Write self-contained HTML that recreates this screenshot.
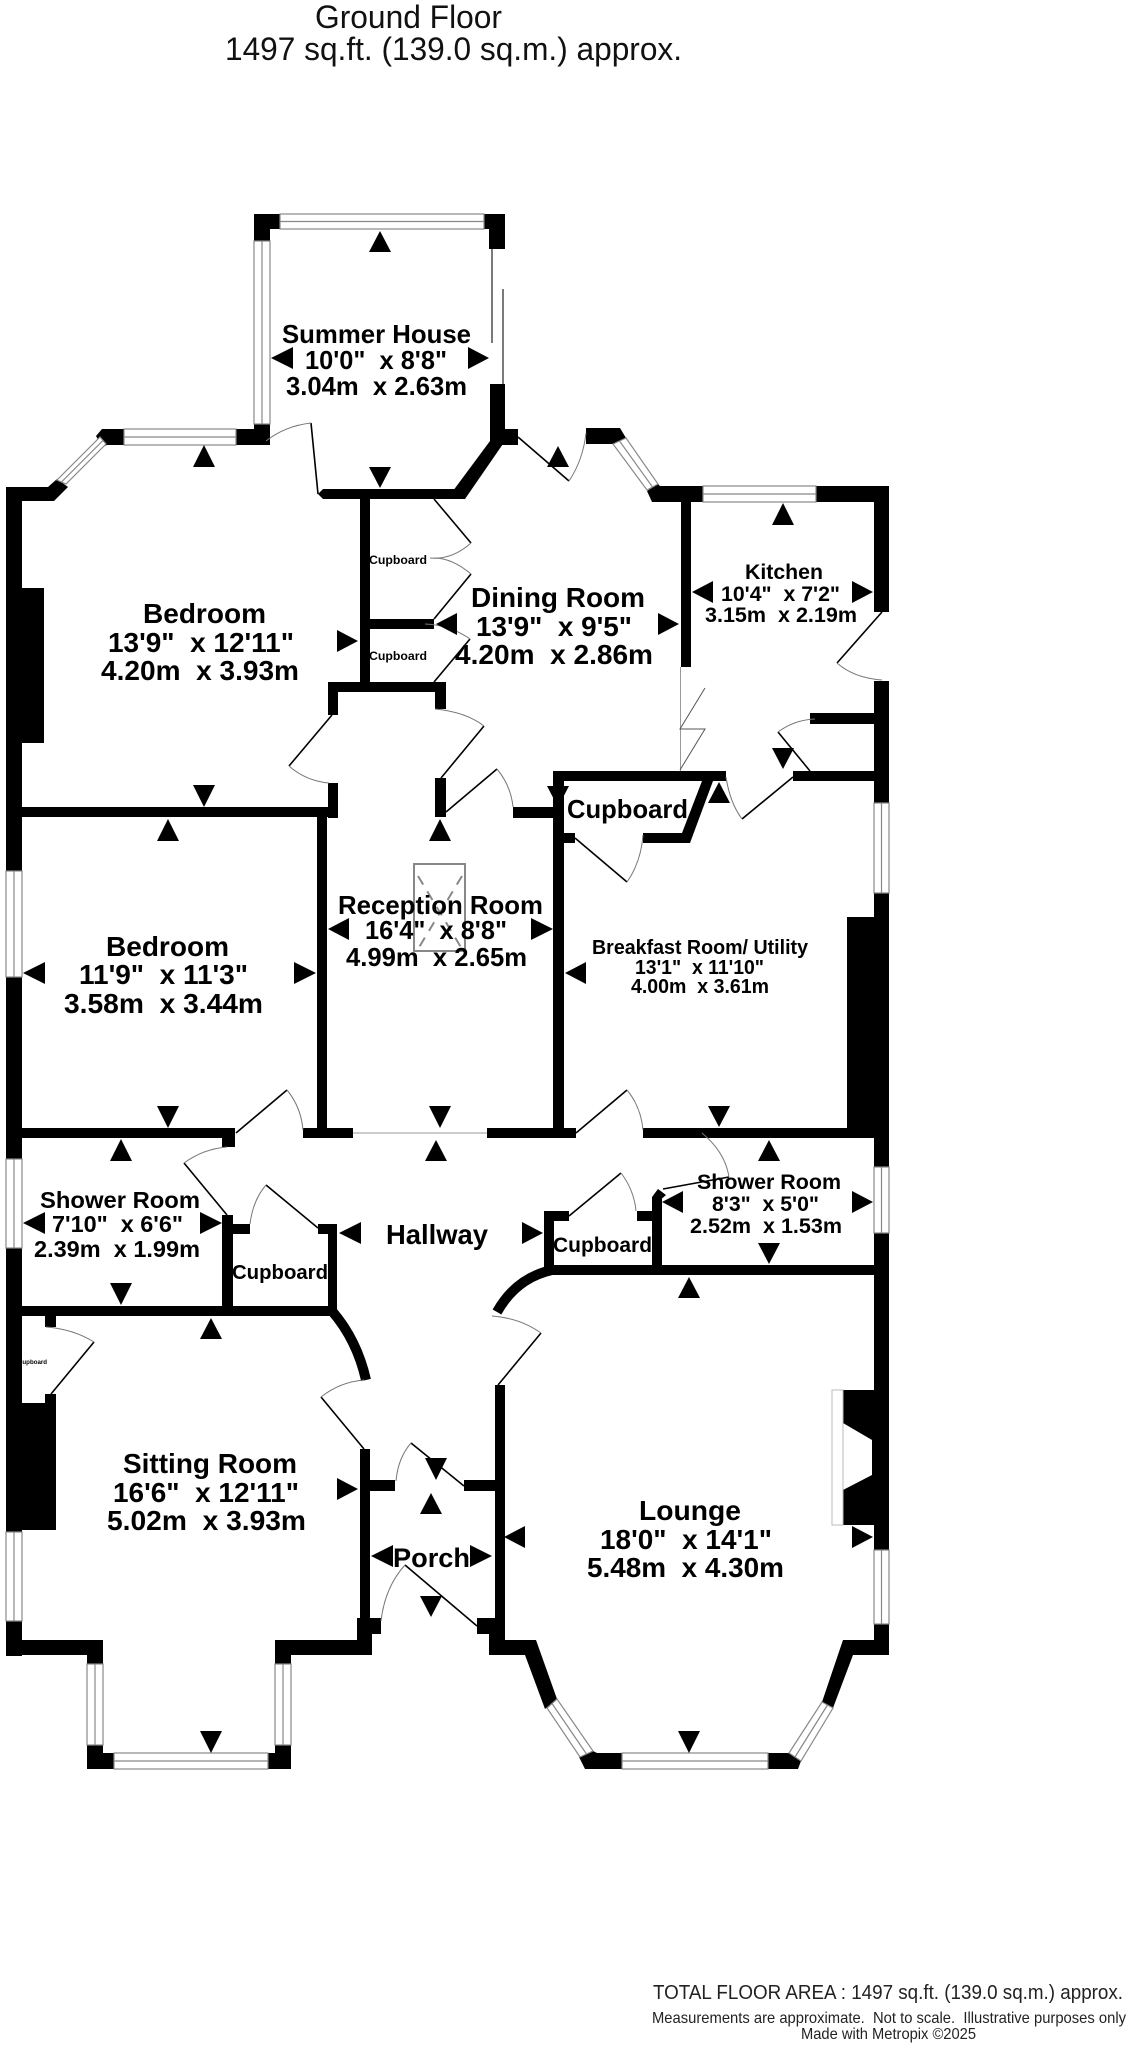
<!DOCTYPE html>
<html lang="en">
<head>
<meta charset="utf-8">
<title>Ground Floor Plan</title>
<style>
html,body{margin:0;padding:0;background:#fff;width:1129px;height:2048px;overflow:hidden}
svg{display:block}
text{font-family:"Liberation Sans",sans-serif;fill:#000;font-weight:bold}
.r{font-weight:normal;fill:#111}
.f{font-weight:normal;fill:#222}
.w{fill:#fff;stroke:#888;stroke-width:1.2}
.c{fill:none;stroke:#888;stroke-width:1.2}
.d{fill:none;stroke:#000;stroke-width:1.6}
.a{fill:none;stroke:#777;stroke-width:1}
.g{fill:none;stroke:#999;stroke-width:1}
.k{fill:none;stroke:#000;stroke-width:10}
</style>
</head>
<body>
<svg xmlns="http://www.w3.org/2000/svg" width="1129" height="2048" viewBox="0 0 1129 2048">
<rect width="1129" height="2048" fill="#fff"/>

<!-- titles -->
<text class="r" x="315" y="28" font-size="32" textLength="187" lengthAdjust="spacingAndGlyphs">Ground Floor</text>
<text class="r" x="225" y="60" font-size="32" textLength="457" lengthAdjust="spacingAndGlyphs">1497 sq.ft. (139.0 sq.m.) approx.</text>
<text class="f" x="653" y="1999" font-size="20" textLength="470" lengthAdjust="spacingAndGlyphs">TOTAL FLOOR AREA : 1497 sq.ft. (139.0 sq.m.) approx.</text>
<text class="f" x="652" y="2023" font-size="16" textLength="474" lengthAdjust="spacingAndGlyphs">Measurements are approximate. &#160;Not to scale. &#160;Illustrative purposes only</text>
<text class="f" x="801" y="2039" font-size="16" textLength="175" lengthAdjust="spacingAndGlyphs">Made with Metropix ©2025</text>

<!-- walls -->
<g fill="#000">
<!-- summer house -->
<rect x="254" y="214" width="26" height="15"/><rect x="254" y="214" width="16" height="27"/>
<rect x="484" y="214" width="21" height="15"/><rect x="489" y="214" width="16" height="35"/>
<rect x="254" y="424" width="16" height="21"/>
<rect x="236" y="429" width="34" height="16"/>
<rect x="490" y="384" width="15" height="61"/>
<rect x="490" y="429" width="28" height="16"/>
<polygon points="490,441 505,441 465,499 447,499"/>
<polygon points="318,494 323,489 461,489 461,499 323,499"/>
<!-- bedroom top -->
<polygon points="96,436 102,429 124,429 124,445 107,445 102,447"/>
<polygon points="6,487 48,487 57,479 68,487 54,501 22,501 22,1656 6,1656"/>
<rect x="22" y="588" width="22" height="155"/>
<rect x="360" y="499" width="10" height="183"/>
<rect x="370" y="619" width="64" height="10"/>
<rect x="328" y="682" width="118" height="10"/>
<rect x="328" y="692" width="10" height="23"/>
<rect x="435" y="692" width="11" height="17"/>
<rect x="328" y="783" width="10" height="35"/>
<rect x="22" y="807" width="316" height="10"/>
<rect x="435" y="778" width="11" height="39"/>
<rect x="317" y="817" width="10" height="321"/>
<!-- dining top -->
<polygon points="586,428 620,428 626,438 613,444 586,444"/>
<polygon points="658,484 660,486 703,486 703,502 652,502 647,491"/>
<rect x="681" y="486" width="10" height="181"/>
<!-- kitchen -->
<path d="M816 486H889V612H874V502H816Z"/>
<rect x="874" y="681" width="15" height="122"/>
<rect x="810" y="713" width="64" height="11"/>
<rect x="793" y="771" width="81" height="10"/>
<!-- cupboard breakfast -->
<rect x="553" y="771" width="173" height="10"/>
<rect x="553" y="771" width="11" height="367"/>
<rect x="513" y="807" width="40" height="11"/>
<rect x="564" y="833" width="11" height="10"/>
<polygon points="702,781 713,781 690,843 643,843 643,833 682,833"/>
<!-- right side -->
<rect x="874" y="893" width="15" height="274"/>
<rect x="847" y="917" width="27" height="221"/>
<rect x="643" y="1128" width="204" height="10"/>
<rect x="487" y="1128" width="89" height="10"/>
<rect x="303" y="1128" width="50" height="10"/>
<rect x="22" y="1128" width="213" height="10"/>
<rect x="222" y="1128" width="13" height="19"/>
<rect x="874" y="1233" width="15" height="317"/>
<rect x="550" y="1265" width="324" height="10"/>
<!-- shower / cupboards left -->
<rect x="222" y="1215" width="11" height="91"/>
<rect x="233" y="1224" width="17" height="10"/>
<rect x="318" y="1224" width="19" height="10"/>
<rect x="328" y="1224" width="9" height="87"/>
<rect x="22" y="1306" width="310" height="10"/>
<rect x="45" y="1316" width="11" height="11"/>
<rect x="45" y="1394" width="11" height="9"/>
<rect x="22" y="1403" width="34" height="127"/>
<!-- cupboard right -->
<rect x="544" y="1211" width="10" height="58"/>
<rect x="554" y="1211" width="15" height="10"/>
<rect x="637" y="1211" width="15" height="10"/>
<rect x="652" y="1197" width="10" height="73"/>
<polygon points="652,1197 658,1189 666,1195 658,1202"/>
<!-- sitting bottom -->
<rect x="6" y="1640" width="97" height="15"/>
<rect x="87" y="1640" width="16" height="24"/>
<rect x="87" y="1745" width="16" height="24"/>
<rect x="87" y="1753" width="27" height="16"/>
<rect x="275" y="1640" width="16" height="24"/>
<rect x="275" y="1640" width="97" height="15"/>
<rect x="275" y="1745" width="16" height="24"/>
<rect x="268" y="1753" width="23" height="16"/>
<rect x="360" y="1449" width="10" height="170"/>
<rect x="357" y="1618" width="15" height="37"/>
<rect x="357" y="1618" width="24" height="16"/>
<rect x="370" y="1480" width="25" height="11"/>
<rect x="464" y="1480" width="31" height="11"/>
<rect x="495" y="1385" width="10" height="233"/>
<rect x="477" y="1618" width="28" height="16"/>
<rect x="489" y="1618" width="16" height="37"/>
<!-- lounge bottom -->
<polygon points="489,1640 536,1640 557,1699 545,1709 525,1655 489,1655"/>
<polygon points="579,1757 593,1751 597,1753 622,1753 622,1769 585,1769"/>
<polygon points="768,1753 789,1753 801,1761 798,1769 768,1769"/>
<polygon points="843,1640 889,1640 889,1655 853,1655 833,1708 822,1702"/>
<rect x="874" y="1624" width="15" height="31"/>
<!-- lounge fireplace -->
<polygon points="843,1390 874,1390 874,1525 843,1525 843,1490 872,1475 872,1440 843,1423"/>
</g>
<rect x="832" y="1390" width="11" height="135" fill="none" stroke="#bbb" stroke-width="1"/>

<!-- windows -->
<g>
<rect class="w" x="280" y="214" width="204" height="15"/><path class="c" d="M280 221.500H484"/>
<rect class="w" x="254" y="241" width="16" height="183"/><path class="c" d="M262 241V424"/>
<rect class="w" x="124" y="429" width="112" height="16"/><path class="c" d="M124 437H236"/>
<polygon class="w" points="57,480 100,437 106,444 66,484"/><path class="c" d="M61.500 482L103 440.500"/>
<rect class="w" x="703" y="486" width="113" height="16"/><path class="c" d="M703 494H816"/>
<polygon class="w" points="613,444 626,438 658,484 647,490"/><path class="c" d="M619.500 441L652.500 487"/>
<rect class="w" x="874" y="803" width="15" height="90"/><path class="c" d="M881.500 803V893"/>
<rect class="w" x="6" y="871" width="16" height="106"/><path class="c" d="M14 871V977"/>
<rect class="w" x="6" y="1159" width="16" height="89"/><path class="c" d="M14 1159V1248"/>
<rect class="w" x="874" y="1167" width="15" height="66"/><path class="c" d="M881.500 1167V1233"/>
<rect class="w" x="6" y="1532" width="16" height="89"/><path class="c" d="M14 1532V1621"/>
<rect class="w" x="874" y="1550" width="15" height="74"/><path class="c" d="M881.500 1550V1624"/>
<rect class="w" x="87" y="1664" width="16" height="81"/><path class="c" d="M95 1664V1745"/>
<rect class="w" x="275" y="1664" width="16" height="81"/><path class="c" d="M283 1664V1745"/>
<rect class="w" x="114" y="1753" width="154" height="16"/><path class="c" d="M114 1761H268"/>
<rect class="w" x="622" y="1753" width="146" height="16"/><path class="c" d="M622 1761H768"/>
<polygon class="w" points="547,1708 557,1699 593,1751 580,1757"/><path class="c" d="M552 1703.500L586.500 1754"/>
<polygon class="w" points="789,1753 801,1761 833,1708 822,1702"/><path class="c" d="M795 1757L827.500 1705"/>
<path class="g" d="M353 1133H487"/>
</g>

<!-- curved walls -->
<path class="k" d="M332 1311Q357 1340 366 1380"/>
<path class="k" d="M552 1270Q516 1278 497 1312"/>

<!-- thin slider lines -->
<path d="M492 249V343M503 289V384" fill="none" stroke="#222" stroke-width="1.2"/>

<!-- doors -->
<path class="d" d="M311 423L318 494"/><path class="a" d="M266 441Q285 426 311 423"/>
<path class="d" d="M518 437L569 481"/><path class="a" d="M569 481Q583 460 586 433"/>
<path class="d" d="M434 499L471 543"/><path class="a" d="M471 543Q452 560 430 558"/>
<path class="d" d="M434 619L471 574"/><path class="a" d="M471 574Q452 558 434 558"/>
<path class="d" d="M434 682L470 639"/><path class="a" d="M470 639Q450 625 425 624"/>
<path class="d" d="M332 715L289 766"/><path class="a" d="M289 766Q306 781 329 783"/>
<path class="d" d="M484 726L441 778"/><path class="a" d="M435 709Q466 712 484 726"/>
<path class="d" d="M446 812L497 769"/><path class="a" d="M497 769Q511 786 513 807"/>
<path class="d" d="M882 612L837 663"/><path class="a" d="M837 663Q854 678 882 680"/>
<path class="d" d="M810 771L778 732"/><path class="a" d="M778 732Q794 720 815 719"/>
<path class="d" d="M793 777L742 819"/><path class="a" d="M726 777Q730 803 742 819"/>
<path class="d" d="M575 838L627 882"/><path class="a" d="M627 882Q641 862 643 835"/>
<path class="d" d="M236 1133L287 1090"/><path class="a" d="M287 1090Q301 1107 303 1130"/>
<path class="d" d="M576 1133L627 1090"/><path class="a" d="M627 1090Q641 1107 643 1130"/>
<path class="d" d="M184 1163L227 1215"/><path class="a" d="M184 1163Q203 1149 227 1147"/>
<path class="d" d="M266 1185L318 1228"/><path class="a" d="M250 1224Q253 1200 266 1185"/>
<path class="d" d="M569 1216L621 1173"/><path class="a" d="M621 1173Q634 1190 636 1211"/>
<path class="d" d="M663 1189L729 1177"/><path class="a" d="M702 1133Q725 1152 729 1177"/>
<path class="d" d="M94 1342L51 1394"/><path class="a" d="M46 1327Q73 1329 94 1342"/>
<path class="d" d="M321 1397L364 1449"/><path class="a" d="M321 1397Q340 1382 364 1380"/>
<path class="d" d="M541 1333L498 1385"/><path class="a" d="M492 1316Q520 1318 541 1333"/>
<path class="d" d="M411 1443L464 1486"/><path class="a" d="M396 1481Q398 1458 411 1443"/>
<path class="d" d="M405 1565L477 1626"/><path class="a" d="M381 1621Q385 1587 405 1565"/>
<!-- bifold -->
<path class="g" d="M680.500 667V771"/>
<path d="M705 688L680 729H705L680 770" fill="none" stroke="#555" stroke-width="1"/>

<!-- skylight -->
<rect x="414" y="864" width="51" height="87" fill="none" stroke="#888" stroke-width="2"/>
<path d="M418 876L462 949M462 876L418 949" fill="none" stroke="#888" stroke-width="2" stroke-dasharray="10 8"/>

<!-- arrows -->
<g fill="#000">
<polygon points="380,231 369,252 391,252"/>
<polygon points="271,358 293,347 293,369"/>
<polygon points="489,358 468,347 468,369"/>
<polygon points="204,445 193,467 215,467"/>
<polygon points="380,488 369,467 391,467"/>
<polygon points="358,641 337,630 337,652"/>
<polygon points="436,624 457,613 457,635"/>
<polygon points="204,807 193,785 215,785"/>
<polygon points="168,819 157,841 179,841"/>
<polygon points="440,819 429,841 451,841"/>
<polygon points="23,973 45,962 45,984"/>
<polygon points="316,973 294,962 294,984"/>
<polygon points="168,1128 157,1106 179,1106"/>
<polygon points="328,929 349,918 349,940"/>
<polygon points="553,929 531,918 531,940"/>
<polygon points="440,1128 429,1106 451,1106"/>
<polygon points="558,446 547,467 569,467"/>
<polygon points="783,503 772,525 794,525"/>
<polygon points="692,592 713,581 713,603"/>
<polygon points="873,592 852,581 852,603"/>
<polygon points="679,624 658,613 658,635"/>
<polygon points="783,769 772,748 794,748"/>
<polygon points="719,782 708,803 730,803"/>
<polygon points="558,807 547,786 569,786"/>
<polygon points="565,973 586,962 586,984"/>
<polygon points="719,1127 708,1106 730,1106"/>
<polygon points="769,1140 758,1161 780,1161"/>
<polygon points="662,1202 683,1191 683,1213"/>
<polygon points="873,1202 852,1191 852,1213"/>
<polygon points="769,1264 758,1243 780,1243"/>
<polygon points="689,1277 678,1298 700,1298"/>
<polygon points="504,1537 525,1526 525,1548"/>
<polygon points="873,1537 852,1526 852,1548"/>
<polygon points="689,1753 678,1731 700,1731"/>
<polygon points="543,1233 522,1222 522,1244"/>
<polygon points="121,1139 110,1161 132,1161"/>
<polygon points="436,1140 425,1161 447,1161"/>
<polygon points="23,1223 45,1212 45,1234"/>
<polygon points="222,1223 200,1212 200,1234"/>
<polygon points="339,1233 361,1222 361,1244"/>
<polygon points="121,1305 110,1283 132,1283"/>
<polygon points="211,1318 200,1339 222,1339"/>
<polygon points="358,1489 337,1478 337,1500"/>
<polygon points="436,1480 425,1458 447,1458"/>
<polygon points="431,1493 420,1514 442,1514"/>
<polygon points="371,1556 393,1545 393,1567"/>
<polygon points="492,1556 470,1545 470,1567"/>
<polygon points="431,1617 420,1596 442,1596"/>
<polygon points="211,1753 200,1731 222,1731"/>
</g>

<!-- labels -->
<g>
<text x="282" y="343" font-size="26" textLength="189" lengthAdjust="spacingAndGlyphs">Summer House</text>
<text x="305" y="369" font-size="26" textLength="142" lengthAdjust="spacingAndGlyphs">10'0" &#160;x 8'8"</text>
<text x="286" y="395" font-size="26" textLength="181" lengthAdjust="spacingAndGlyphs">3.04m &#160;x 2.63m</text>

<text x="143" y="623" font-size="28" textLength="123" lengthAdjust="spacingAndGlyphs">Bedroom</text>
<text x="108" y="652" font-size="28" textLength="186" lengthAdjust="spacingAndGlyphs">13'9" &#160;x 12'11"</text>
<text x="101" y="680" font-size="28" textLength="198" lengthAdjust="spacingAndGlyphs">4.20m &#160;x 3.93m</text>

<text x="369" y="564" font-size="12.300" textLength="58" lengthAdjust="spacingAndGlyphs">Cupboard</text>
<text x="369" y="660" font-size="12.300" textLength="58" lengthAdjust="spacingAndGlyphs">Cupboard</text>

<text x="471" y="607" font-size="28" textLength="174" lengthAdjust="spacingAndGlyphs">Dining Room</text>
<text x="476" y="636" font-size="28" textLength="156" lengthAdjust="spacingAndGlyphs">13'9" &#160;x 9'5"</text>
<text x="455" y="664" font-size="28" textLength="198" lengthAdjust="spacingAndGlyphs">4.20m &#160;x 2.86m</text>

<text x="745" y="579" font-size="21.500" textLength="78" lengthAdjust="spacingAndGlyphs">Kitchen</text>
<text x="721" y="601" font-size="21.500" textLength="119" lengthAdjust="spacingAndGlyphs">10'4" &#160;x 7'2"</text>
<text x="705" y="622" font-size="21.500" textLength="152" lengthAdjust="spacingAndGlyphs">3.15m &#160;x 2.19m</text>

<text x="567" y="818" font-size="25.600" textLength="121" lengthAdjust="spacingAndGlyphs">Cupboard</text>

<text x="106" y="956" font-size="28" textLength="123" lengthAdjust="spacingAndGlyphs">Bedroom</text>
<text x="79" y="984" font-size="28" textLength="169" lengthAdjust="spacingAndGlyphs">11'9" &#160;x 11'3"</text>
<text x="64" y="1013" font-size="28" textLength="199" lengthAdjust="spacingAndGlyphs">3.58m &#160;x 3.44m</text>

<text x="338" y="914" font-size="26" textLength="205" lengthAdjust="spacingAndGlyphs">Reception Room</text>
<text x="365" y="939" font-size="26" textLength="142" lengthAdjust="spacingAndGlyphs">16'4" &#160;x 8'8"</text>
<text x="346" y="966" font-size="26" textLength="181" lengthAdjust="spacingAndGlyphs">4.99m &#160;x 2.65m</text>

<text x="592" y="954" font-size="20" textLength="216" lengthAdjust="spacingAndGlyphs">Breakfast Room/ Utility</text>
<text x="635" y="974" font-size="20" textLength="129" lengthAdjust="spacingAndGlyphs">13'1" &#160;x 11'10"</text>
<text x="631" y="993" font-size="20" textLength="138" lengthAdjust="spacingAndGlyphs">4.00m &#160;x 3.61m</text>

<text x="40" y="1208" font-size="23.500" textLength="160" lengthAdjust="spacingAndGlyphs">Shower Room</text>
<text x="52" y="1232" font-size="23.500" textLength="131" lengthAdjust="spacingAndGlyphs">7'10" &#160;x 6'6"</text>
<text x="34" y="1257" font-size="23.500" textLength="166" lengthAdjust="spacingAndGlyphs">2.39m &#160;x 1.99m</text>

<text x="232" y="1279" font-size="20.300" textLength="96" lengthAdjust="spacingAndGlyphs">Cupboard</text>
<text x="386" y="1244" font-size="27.400" textLength="102" lengthAdjust="spacingAndGlyphs">Hallway</text>
<text x="18" y="1364" font-size="6.300" textLength="29" lengthAdjust="spacingAndGlyphs">Cupboard</text>

<text x="123" y="1473" font-size="28" textLength="174" lengthAdjust="spacingAndGlyphs">Sitting Room</text>
<text x="113" y="1502" font-size="28" textLength="186" lengthAdjust="spacingAndGlyphs">16'6" &#160;x 12'11"</text>
<text x="107" y="1530" font-size="28" textLength="199" lengthAdjust="spacingAndGlyphs">5.02m &#160;x 3.93m</text>

<text x="393" y="1567" font-size="27" textLength="77" lengthAdjust="spacingAndGlyphs">Porch</text>

<text x="639" y="1520" font-size="28" textLength="102" lengthAdjust="spacingAndGlyphs">Lounge</text>
<text x="600" y="1549" font-size="28" textLength="172" lengthAdjust="spacingAndGlyphs">18'0" &#160;x 14'1"</text>
<text x="587" y="1577" font-size="28" textLength="197" lengthAdjust="spacingAndGlyphs">5.48m &#160;x 4.30m</text>

<text x="697" y="1189" font-size="21.500" textLength="144" lengthAdjust="spacingAndGlyphs">Shower Room</text>
<text x="712" y="1211" font-size="21.500" textLength="107" lengthAdjust="spacingAndGlyphs">8'3" &#160;x 5'0"</text>
<text x="690" y="1233" font-size="21.500" textLength="152" lengthAdjust="spacingAndGlyphs">2.52m &#160;x 1.53m</text>

<text x="553" y="1252" font-size="21" textLength="99" lengthAdjust="spacingAndGlyphs">Cupboard</text>
</g>
</svg>
</body>
</html>
